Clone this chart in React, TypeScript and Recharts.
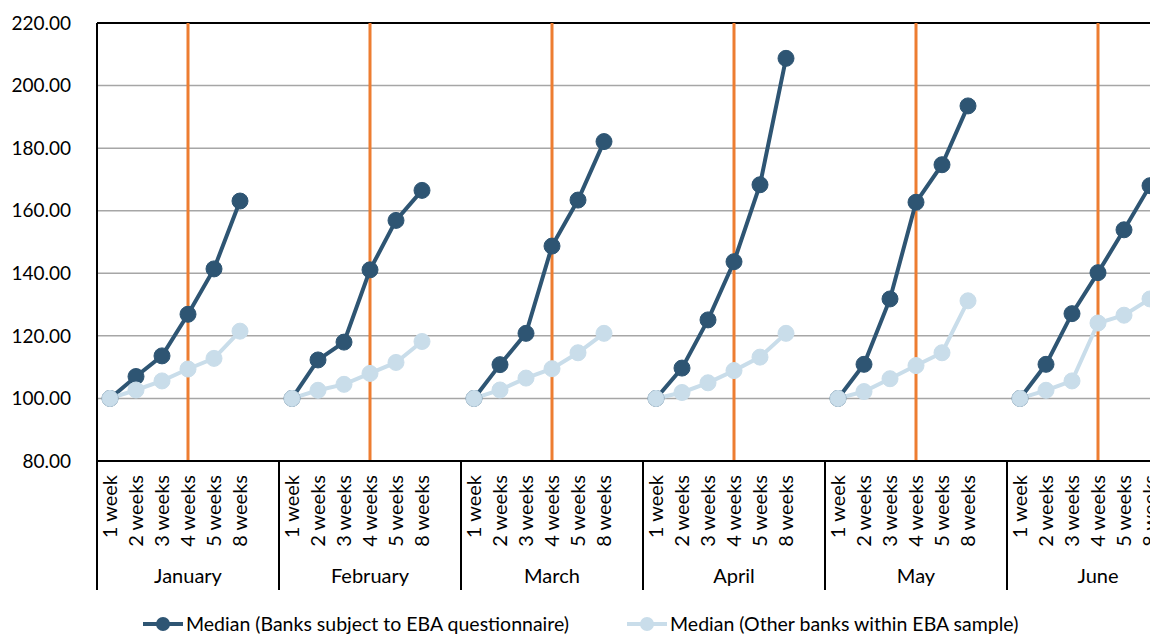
import React from "react";
import { LineChart, Line, XAxis, YAxis, CartesianGrid, ReferenceLine, Legend } from "recharts";

const MONTHS = ["January", "February", "March", "April", "May", "June"];
const WEEKS = ["1 week", "2 weeks", "3 weeks", "4 weeks", "5 weeks", "8 weeks"];
const Y_TICKS = [80, 100, 120, 140, 160, 180, 200, 220];

// one row per month, one value per week horizon
const BANKS_EBA = [
  [100, 107.0, 113.6, 126.9, 141.4, 163.1],
  [100, 112.3, 118.0, 141.1, 156.9, 166.5],
  [100, 110.8, 120.8, 148.7, 163.4, 182.1],
  [100, 109.7, 125.1, 143.7, 168.3, 208.7],
  [100, 110.9, 131.8, 162.7, 174.7, 193.5],
  [100, 110.9, 127.1, 140.2, 153.9, 168.0],
];
const OTHER_BANKS = [
  [100, 102.7, 105.6, 109.4, 112.8, 121.5],
  [100, 102.6, 104.5, 108.0, 111.5, 118.2],
  [100, 102.7, 106.5, 109.5, 114.6, 120.8],
  [100, 101.9, 105.0, 108.9, 113.2, 120.8],
  [100, 102.2, 106.3, 110.5, 114.6, 131.2],
  [100, 102.6, 105.6, 124.1, 126.6, 131.8],
];

const SERIES_EBA = "Median (Banks subject to EBA questionnaire)";
const SERIES_OTHER = "Median (Other banks within EBA sample)";

const DARK = "#2E5573";
const LIGHT = "#C9DDEA";
const ORANGE = "#ED7D31";
const GRID = "#A6A6A6";
const FONT = "Lato, 'Open Sans', sans-serif";

const GAP = "gap";

// each month gets its six horizons plus one empty slot so the lines break
const data = MONTHS.flatMap((m, mi) => [
  ...WEEKS.map((w, wi) => ({
    key: `${m}|${w}`,
    eba: BANKS_EBA[mi][wi],
    other: OTHER_BANKS[mi][wi],
  })),
  { key: `${m}|${GAP}`, eba: null, other: null },
]);

function WeekTick(props: any) {
  const { x, y, payload } = props;
  const [month, week] = String(payload.value).split("|");
  const half = payload.offset || 13;
  if (week === GAP) return <g />;
  const ty = y + 14;
  return (
    <g>
      <text
        x={x}
        y={ty}
        dy="0.35em"
        transform={`rotate(-90, ${x}, ${ty})`}
        textAnchor="end"
        fontSize={20}
        fill="#000"
      >
        {week}
      </text>
      {week === WEEKS[0] && (
        <line x1={x - half} x2={x - half} y1={y} y2={y + 129} stroke="#000" strokeWidth={2} />
      )}
      {week === WEEKS[3] && (
        <text x={x} y={y + 122} textAnchor="middle" fontSize={20} fill="#000">
          {month}
        </text>
      )}
    </g>
  );
}

function LegendItem({ color, label }: { color: string; label: string }) {
  return (
    <div style={{ display: "flex", alignItems: "center" }}>
      <svg width={40} height={20} style={{ marginRight: 3 }}>
        <line x1={0} x2={40} y1={10} y2={10} stroke={color} strokeWidth={4} />
        <circle cx={20} cy={10} r={7} fill={color} />
      </svg>
      <span style={{ fontSize: 19.5, color: "#000", lineHeight: "22px" }}>{label}</span>
    </div>
  );
}

function LegendContent() {
  return (
    <div style={{ display: "flex", paddingLeft: 143, paddingTop: 23, gap: 58, fontFamily: FONT }}>
      <LegendItem color={DARK} label={SERIES_EBA} />
      <LegendItem color={LIGHT} label={SERIES_OTHER} />
    </div>
  );
}

export default function App() {
  return (
    <div
      style={{
        position: "absolute",
        left: 0,
        top: 0,
        width: 1150,
        height: 634,
        overflow: "hidden",
        background: "#fff",
        fontFamily: FONT,
      }}
    >
      <LineChart
        width={1200}
        height={634}
        data={data}
        margin={{ top: 23, right: 11, bottom: 0, left: 0 }}
        style={{ fontFamily: FONT }}
      >
        <CartesianGrid vertical={false} stroke={GRID} strokeWidth={1.5} />
        <XAxis
          dataKey="key"
          type="category"
          scale="band"
          interval={0}
          height={129}
          tickLine={false}
          tickSize={0}
          tickMargin={0}
          axisLine={{ stroke: "#000", strokeWidth: 2 }}
          tick={<WeekTick />}
        />
        <YAxis
          type="number"
          domain={[80, 220]}
          ticks={Y_TICKS}
          width={97}
          tickFormatter={(v: number) => v.toFixed(2)}
          tick={{ fontSize: 19, fill: "#000" }}
          tickLine={false}
          tickSize={0}
          tickMargin={26}
          axisLine={{ stroke: "#000", strokeWidth: 2 }}
        />
        <ReferenceLine y={220} stroke="#000" strokeWidth={2} />
        {MONTHS.map((m) => (
          <ReferenceLine key={m} x={`${m}|${WEEKS[3]}`} stroke={ORANGE} strokeWidth={3} />
        ))}
        <Legend verticalAlign="bottom" align="left" height={44} content={() => <LegendContent />} />
        <Line
          dataKey="eba"
          name={SERIES_EBA}
          stroke={DARK}
          strokeWidth={4}
          dot={{ r: 8, fill: DARK, stroke: DARK, strokeWidth: 1 }}
          activeDot={false}
          connectNulls={false}
          isAnimationActive={false}
        />
        <Line
          dataKey="other"
          name={SERIES_OTHER}
          stroke={LIGHT}
          strokeWidth={4}
          dot={{ r: 8, fill: LIGHT, stroke: LIGHT, strokeWidth: 1 }}
          activeDot={false}
          connectNulls={false}
          isAnimationActive={false}
        />
      </LineChart>
    </div>
  );
}
